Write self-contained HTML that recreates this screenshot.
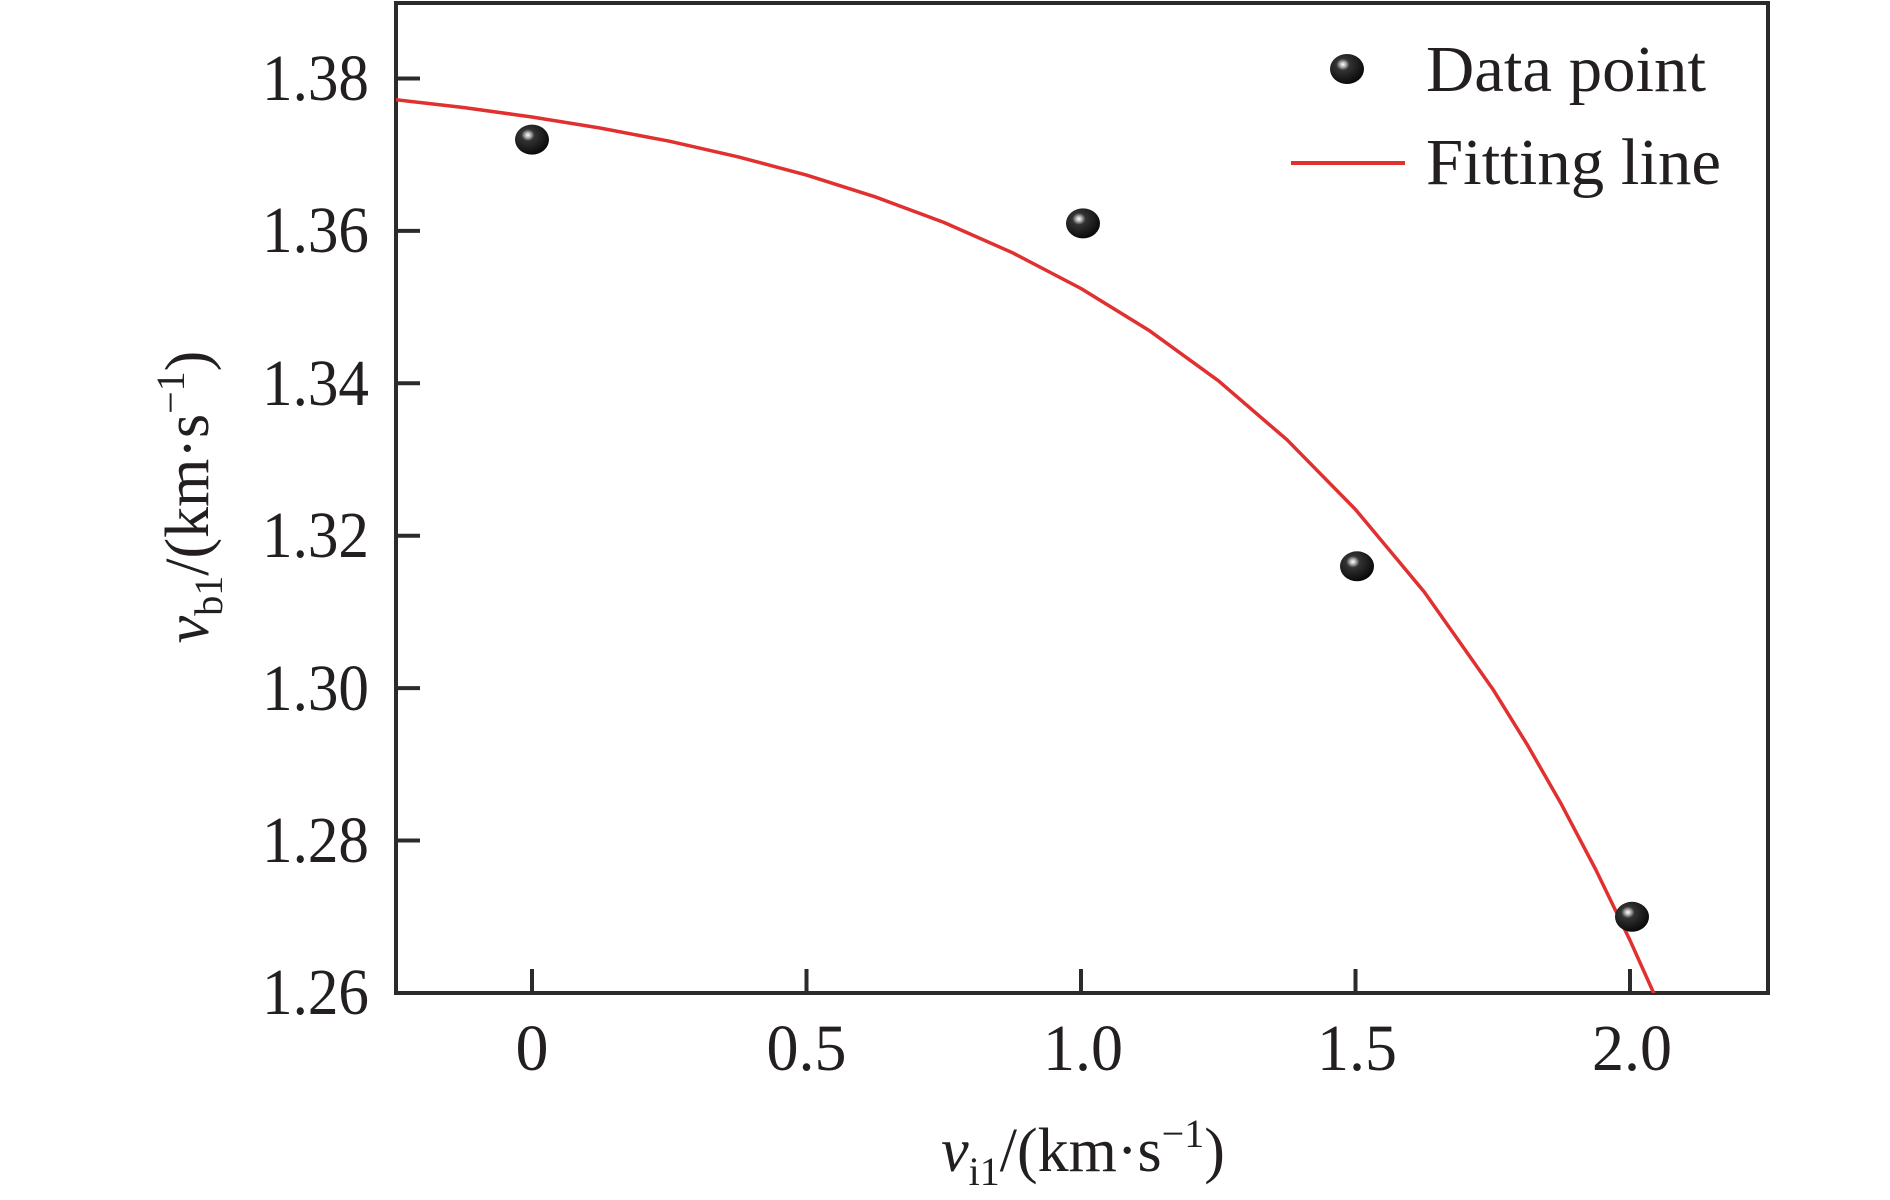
<!DOCTYPE html>
<html><head><meta charset="utf-8"><style>
html,body{margin:0;padding:0;background:#fff;}
svg{display:block;}
text{font-family:"Liberation Serif","Times New Roman",serif;fill:#231f20;}
</style></head><body>
<svg width="1890" height="1200" viewBox="0 0 1890 1200" xmlns="http://www.w3.org/2000/svg">
<defs>
<radialGradient id="ball" cx="0.38" cy="0.35" r="0.65">
<stop offset="0" stop-color="#ffffff"/>
<stop offset="0.12" stop-color="#bbbbbb"/>
<stop offset="0.3" stop-color="#333333"/>
<stop offset="1" stop-color="#0a0a0a"/>
</radialGradient>
<clipPath id="pc"><rect x="396" y="3" width="1372" height="990"/></clipPath>
</defs>
<rect x="396" y="3" width="1372" height="990" fill="none" stroke="#2b2b2b" stroke-width="4"/>
<g stroke="#2b2b2b" stroke-width="4">
<line x1="396" y1="78.5" x2="420" y2="78.5"/>
<line x1="396" y1="230.9" x2="420" y2="230.9"/>
<line x1="396" y1="383.3" x2="420" y2="383.3"/>
<line x1="396" y1="535.7" x2="420" y2="535.7"/>
<line x1="396" y1="688.1" x2="420" y2="688.1"/>
<line x1="396" y1="840.5" x2="420" y2="840.5"/>
<line x1="532" y1="993" x2="532" y2="969"/>
<line x1="806.5" y1="993" x2="806.5" y2="969"/>
<line x1="1081" y1="993" x2="1081" y2="969"/>
<line x1="1355.5" y1="993" x2="1355.5" y2="969"/>
<line x1="1630" y1="993" x2="1630" y2="969"/>
</g>
<g font-size="66" text-anchor="end">
<text x="369" y="100" textLength="107" lengthAdjust="spacingAndGlyphs">1.38</text>
<text x="369" y="252" textLength="107" lengthAdjust="spacingAndGlyphs">1.36</text>
<text x="369" y="405" textLength="107" lengthAdjust="spacingAndGlyphs">1.34</text>
<text x="369" y="557" textLength="107" lengthAdjust="spacingAndGlyphs">1.32</text>
<text x="369" y="710" textLength="107" lengthAdjust="spacingAndGlyphs">1.30</text>
<text x="369" y="862" textLength="107" lengthAdjust="spacingAndGlyphs">1.28</text>
<text x="369" y="1014" textLength="107" lengthAdjust="spacingAndGlyphs">1.26</text>
</g>
<g font-size="66" text-anchor="middle">
<text x="532" y="1070">0</text>
<text x="806.5" y="1070" textLength="80" lengthAdjust="spacingAndGlyphs">0.5</text>
<text x="1083" y="1070" textLength="80" lengthAdjust="spacingAndGlyphs">1.0</text>
<text x="1357" y="1070" textLength="80" lengthAdjust="spacingAndGlyphs">1.5</text>
<text x="1632" y="1070" textLength="80" lengthAdjust="spacingAndGlyphs">2.0</text>
</g>
<text x="1083" y="1171" font-size="62" text-anchor="middle"><tspan font-style="italic">v</tspan><tspan font-size="40" dy="14">i1</tspan><tspan dy="-14">/(km·s</tspan><tspan font-size="40" dy="-24">−1</tspan><tspan dy="24">)</tspan></text>
<text transform="translate(208,497) rotate(-90)" font-size="62" text-anchor="middle"><tspan font-style="italic">v</tspan><tspan font-size="40" dy="14">b1</tspan><tspan dy="-14">/(km·s</tspan><tspan font-size="40" dy="-24">−1</tspan><tspan dy="24">)</tspan></text>
<path clip-path="url(#pc)" fill="none" stroke="#e03030" stroke-width="3.5" stroke-linejoin="round" d="M394.8,99.6 L463.4,107.5 L532,117 L600.6,128.1 L669.3,141.2 L737.9,156.8 L806.5,175.1 L875.1,196.8 L943.8,222.4 L1012.4,252.7 L1081,288.5 L1149.6,330.8 L1218.3,380.7 L1286.9,439.7 L1355.5,509.5 L1424.1,591.7 L1492.8,689.1 L1527.1,744.4 L1561.4,804.3 L1595.7,869.5 L1630,940.3 L1663,1013.8"/>
<g fill="url(#ball)">
<ellipse cx="532" cy="139.6" rx="17" ry="15"/>
<ellipse cx="1083" cy="223.4" rx="17" ry="15"/>
<ellipse cx="1357" cy="566.3" rx="17" ry="15"/>
<ellipse cx="1632" cy="916.8" rx="17" ry="15"/>
</g>
<ellipse cx="1347" cy="69" rx="17" ry="15" fill="url(#ball)"/>
<text x="1426" y="91" font-size="66" textLength="280" lengthAdjust="spacingAndGlyphs">Data point</text>
<line x1="1291" y1="163" x2="1405" y2="163" stroke="#e03030" stroke-width="4"/>
<text x="1426" y="184" font-size="66" textLength="295" lengthAdjust="spacingAndGlyphs">Fitting line</text>
</svg>
</body></html>
